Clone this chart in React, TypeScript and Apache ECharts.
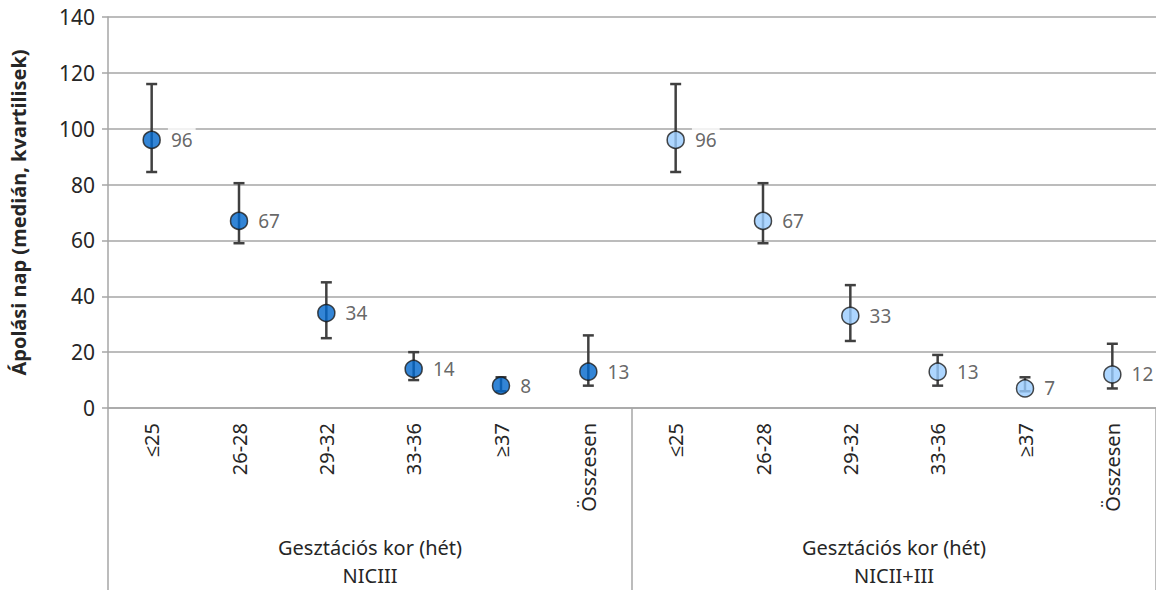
import React, { useEffect, useRef } from "react";
import * as echarts from "echarts";

const categories = ["≤25", "26-28", "29-32", "33-36", "≥37", "Összesen"];
const groupNames = ["NICIII", "NICII+III"];
const groupTitle = "Gesztációs kor (hét)";
const yTicks = { min: 0, max: 140, interval: 20 };
const yTitle = "Ápolási nap (medián, kvartilisek)";

const nic3Median = [96, 67, 34, 14, 8, 13];
const nic3Q1 = [84.5, 59, 25, 10, 6, 8];
const nic3Q3 = [116, 80.5, 45, 20, 11, 26];

const nic23Median = [96, 67, 33, 13, 7, 12];
const nic23Q1 = [84.5, 59, 24, 8, 6, 7];
const nic23Q3 = [116, 80.5, 44, 19, 11, 23];

const FONT = "'Noto Sans', 'Open Sans', sans-serif";

export default function App() {
  const ref = useRef<HTMLDivElement>(null);
  useEffect(() => {
    if (!ref.current) return;
    const chart = echarts.init(ref.current, null, { renderer: "svg" });
    const allCats = [...categories, ...categories];
    const n = categories.length;
    const med1 = nic3Median.map((v, i) => [i, v]);
    const med2 = nic23Median.map((v, i) => [i + n, v]);
    const err = [
      ...nic3Median.map((_, i) => [i, nic3Q1[i], nic3Q3[i]]),
      ...nic23Median.map((_, i) => [i + n, nic23Q1[i], nic23Q3[i]]),
    ];
    const labelCfg = {
      show: true,
      position: "right",
      distance: 7,
      color: "#404040",
      fontSize: 19,
      fontFamily: FONT,
      backgroundColor: "#fff",
      padding: [4, 3],
      formatter: (p: any) => String(p.value[1]),
    };
    chart.setOption({
      animation: false,
      textStyle: { fontFamily: FONT },
      grid: { left: 101, top: 17, width: 1058, height: 391 },
      xAxis: [
        {
          type: "category",
          data: allCats,
          position: "bottom",
          boundaryGap: true,
          axisLine: { show: true, lineStyle: { color: "#a6a6a6", width: 1.5 } },
          axisTick: { show: false },
          axisLabel: {
            rotate: 90,
            interval: 0,
            margin: 15,
            fontSize: 20,
            color: "#262626",
            fontFamily: FONT,
          },
        },
        {
          type: "category",
          data: groupNames.map((g) => groupTitle + "\n" + g),
          position: "bottom",
          boundaryGap: true,
          axisLine: { show: false },
          axisTick: { show: true, length: 182, lineStyle: { color: "#a6a6a6", width: 1.5 } },
          axisLabel: {
            margin: 125,
            fontSize: 20,
            lineHeight: 28,
            color: "#262626",
            fontFamily: FONT,
          },
        },
      ],
      yAxis: {
        type: "value",
        min: yTicks.min,
        max: yTicks.max,
        interval: yTicks.interval,
        name: yTitle,
        nameLocation: "middle",
        nameGap: 80,
        nameTextStyle: { fontSize: 20, fontWeight: "bold", color: "#262626", fontFamily: FONT },
        axisLine: { show: true, lineStyle: { color: "#a6a6a6", width: 1.5 } },
        axisTick: { show: true, length: 6, lineStyle: { color: "#a6a6a6", width: 1.5 } },
        axisLabel: { margin: 13, fontSize: 21, color: "#262626", fontFamily: FONT },
        splitLine: { show: true, lineStyle: { color: "#a6a6a6", width: 1.5 } },
      },
      series: [
        {
          type: "custom",
          data: err,
          z: 1,
          renderItem: (params: any, api: any) => {
            const x = api.value(0);
            const lo = api.coord([x, api.value(1)]);
            const hi = api.coord([x, api.value(2)]);
            const cap = 5.5;
            const style = { stroke: "#404040", lineWidth: 2.5 };
            return {
              type: "group",
              children: [
                { type: "line", shape: { x1: lo[0], y1: lo[1], x2: hi[0], y2: hi[1] }, style },
                { type: "line", shape: { x1: lo[0] - cap, y1: lo[1], x2: lo[0] + cap, y2: lo[1] }, style },
                { type: "line", shape: { x1: hi[0] - cap, y1: hi[1], x2: hi[0] + cap, y2: hi[1] }, style },
              ],
            };
          },
        },
        {
          type: "scatter",
          name: groupNames[0],
          data: med1,
          z: 3,
          symbol: "circle",
          symbolSize: 17,
          itemStyle: { color: "#0066CC", borderColor: "#1a1a1a", borderWidth: 1.5 },
          label: labelCfg,
        },
        {
          type: "scatter",
          name: groupNames[1],
          data: med2,
          z: 3,
          symbol: "circle",
          symbolSize: 17,
          itemStyle: { color: "#99CCFF", borderColor: "#1a1a1a", borderWidth: 1.5 },
          label: labelCfg,
        },
      ],
    });
    return () => chart.dispose();
  }, []);
  return (
    <div
      ref={ref}
      style={{ position: "absolute", left: 0, top: 0, width: 1156, height: 590, background: "#fff" }}
    />
  );
}
